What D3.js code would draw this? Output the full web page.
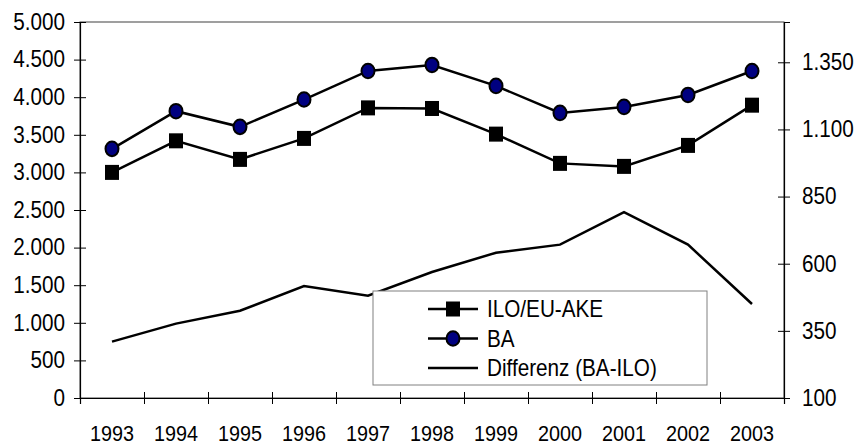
<!DOCTYPE html>
<html>
<head>
<meta charset="utf-8">
<script src="https://cdn.jsdelivr.net/npm/d3@7"></script>
<style>
  body { margin: 0; background: #fff; }
  text { font-family: "Liberation Sans", Arial, sans-serif; fill: #000; }
</style>
</head>
<body>
<div id="frame"></div>
<script>
var years = ["1993", "1994", "1995", "1996", "1997", "1998", "1999", "2000", "2001", "2002", "2003"];
var ilo  = [3000, 3420, 3173, 3452, 3858, 3850, 3509, 3120, 3080, 3359, 3894];
var ba   = [3313, 3814, 3606, 3969, 4349, 4429, 4150, 3791, 3871, 4030, 4349];
var diff = [310, 377, 425, 517, 481, 569, 641, 671, 792, 671, 450];
var leftTicks  = [0, 500, 1000, 1500, 2000, 2500, 3000, 3500, 4000, 4500, 5000];
var rightTicks = [100, 350, 600, 850, 1100, 1350];
var legendNames = ["ILO/EU-AKE", "BA", "Differenz (BA-ILO)"];

var W = 858, H = 446;
var plotLeft = 80, plotRight = 784, plotTop = 22, plotBottom = 398;
var fontSize = "23px";
var squeeze = 0.9;   // the original text is a bit narrow

var de = d3.formatLocale({decimal: ",", thousands: ".", grouping: [3], currency: ["", " €"]});
var fmt = de.format(",d");

var svg = d3.select('#frame').append('svg').attr('width', W).attr('height', H);

var x = d3.scaleBand().domain(years).range([plotLeft, plotRight]);
var xb = d3.scaleLinear().domain([0, years.length]).range([plotLeft, plotRight]);
var yL = d3.scaleLinear().domain([0, 5000]).range([plotBottom, plotTop]);
var yR = d3.scaleLinear().domain([100, 1500]).range([plotBottom, plotTop]);
var cx = function(d, i) { return x(years[i]) + x.bandwidth() / 2; };

function narrow(sel) {
  sel.each(function() {
    var t = d3.select(this);
    var tx = +t.attr("x") || 0;
    t.attr("transform", "translate(" + tx + ",0) scale(" + squeeze + ",1) translate(" + (-tx) + ",0)");
  });
}

// plot area border
svg.append("rect")
  .attr("x", plotLeft).attr("y", plotTop)
  .attr("width", plotRight - plotLeft).attr("height", plotBottom - plotTop)
  .attr("fill", "none").attr("stroke", "#404040").attr("stroke-width", 1);

// left axis
var gL = svg.append("g").attr("transform", "translate(" + plotLeft + ",0)")
  .call(d3.axisLeft(yL).tickValues(leftTicks).tickFormat(fmt).tickSize(6).tickPadding(9));
gL.selectAll(".tick line").attr("x1", -6).attr("x2", 6);

// right axis
var gR = svg.append("g").attr("transform", "translate(" + plotRight + ",0)")
  .call(d3.axisRight(yR).tickValues(rightTicks).tickFormat(fmt).tickSize(6).tickPadding(12));
gR.selectAll(".tick line").attr("x1", -6).attr("x2", 6);

// bottom axis: tick marks at category boundaries, labels at centres
var gB = svg.append("g").attr("transform", "translate(0," + plotBottom + ")")
  .call(d3.axisBottom(xb).tickValues(d3.range(years.length + 1)).tickFormat("").tickSize(6));
gB.selectAll(".tick line").attr("y1", -6).attr("y2", 6);
var gBl = svg.append("g").attr("transform", "translate(0," + plotBottom + ")")
  .call(d3.axisBottom(x).tickSize(0).tickPadding(27));
gBl.select(".domain").remove();

[gL, gR, gB, gBl].forEach(function(g) {
  g.selectAll(".domain").attr("stroke", "#000").attr("stroke-width", 1.2);
  g.selectAll(".tick line").attr("stroke", "#000").attr("stroke-width", 1);
  g.selectAll("text").attr("font-size", fontSize).attr("font-family", '"Liberation Sans", Arial, sans-serif').attr("fill", "#000")
    .call(narrow);
});
gBl.selectAll("text").attr("font-size", "22px");

// lines
var lineL = d3.line().x(cx).y(function(d) { return yL(d); });
var lineR = d3.line().x(cx).y(function(d) { return yR(d); });

svg.append("path").datum(diff).attr("d", lineR)
  .attr("fill", "none").attr("stroke", "#000").attr("stroke-width", 2.5);
svg.append("path").datum(ilo).attr("d", lineL)
  .attr("fill", "none").attr("stroke", "#000").attr("stroke-width", 2.5);
svg.append("path").datum(ba).attr("d", lineL)
  .attr("fill", "none").attr("stroke", "#000").attr("stroke-width", 2.5);

// markers
svg.selectAll(".sq").data(ilo).enter().append("rect")
  .attr("class", "sq")
  .attr("x", function(d, i) { return cx(d, i) - 7; })
  .attr("y", function(d) { return yL(d) - 7.5; })
  .attr("width", 14).attr("height", 15)
  .attr("fill", "#000");
svg.selectAll(".ci").data(ba).enter().append("ellipse")
  .attr("class", "ci")
  .attr("cx", cx)
  .attr("cy", function(d) { return yL(d); })
  .attr("rx", 6.5).attr("ry", 7.3)
  .attr("fill", "#000080").attr("stroke", "#000").attr("stroke-width", 2);

// legend
var lg = svg.append("g");
lg.append("rect")
  .attr("x", 373).attr("y", 291).attr("width", 334).attr("height", 94)
  .attr("fill", "#fff").attr("stroke", "#808080").attr("stroke-width", 1);
legendNames.forEach(function(name, i) {
  var ly = 309 + i * 29.5;
  lg.append("line").attr("x1", 428).attr("x2", 478).attr("y1", ly).attr("y2", ly)
    .attr("stroke", "#000").attr("stroke-width", 2.5);
  if (i == 0) {
    lg.append("rect").attr("x", 446).attr("y", ly - 7.5).attr("width", 14).attr("height", 15).attr("fill", "#000");
  } else if (i == 1) {
    lg.append("ellipse").attr("cx", 453).attr("cy", ly).attr("rx", 6.5).attr("ry", 7.3)
      .attr("fill", "#000080").attr("stroke", "#000").attr("stroke-width", 2);
  }
  lg.append("text").attr("x", 487).attr("y", ly).attr("dy", "0.35em")
    .attr("font-size", fontSize).text(name).call(narrow);
});
</script>
</body>
</html>
